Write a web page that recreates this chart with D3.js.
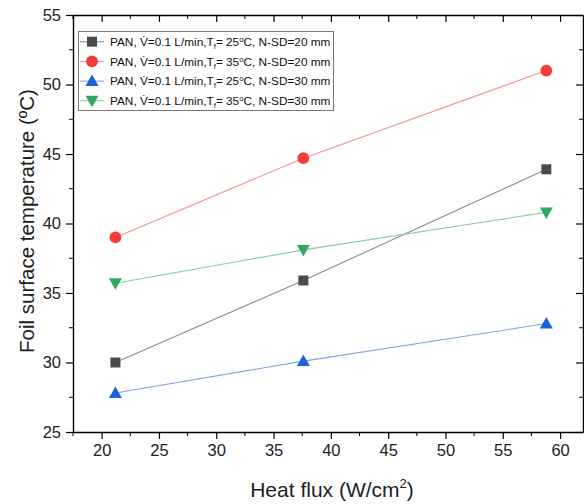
<!DOCTYPE html>
<html>
<head>
<meta charset="utf-8">
<script src="https://cdn.jsdelivr.net/npm/d3@7"></script>
<style>
  html, body { margin: 0; padding: 0; background: #fff; }
  svg { display: block; font-family: Arial, "Liberation Sans", sans-serif; }
</style>
</head>
<body>
<svg id="chart" width="584" height="504"></svg>
<script>
// Heat flux (W/cm²) at which each run was measured
const heatFlux = [21.2, 37.6, 58.8];

// Foil surface temperature (°C) for each configuration
const tempT25SD20 = [30.0, 35.9, 43.9];
const tempT35SD20 = [39.0, 44.7, 51.0];
const tempT25SD30 = [27.8, 30.1, 32.8];
const tempT35SD30 = [35.7, 38.1, 40.8];

const legendTemps = ["25", "35", "25", "35"];
const legendSD = ["20", "20", "30", "30"];

const xTicks = [20, 25, 30, 35, 40, 45, 50, 55, 60];
const yTicks = [25, 30, 35, 40, 45, 50, 55];

const styles = [
  { values: tempT25SD20, marker: "square",   fill: "#4a4a4a", line: "#8c8c8c" },
  { values: tempT35SD20, marker: "circle",   fill: "#f43a3a", line: "#f59090" },
  { values: tempT25SD30, marker: "triangle", fill: "#1c62d6", line: "#7fa6e6" },
  { values: tempT35SD30, marker: "triDown",  fill: "#2fa862", line: "#86cc9f" }
];

const svg = d3.select("#chart");
const plot = { left: 73, right: 583, top: 15, bottom: 432 };

const x = d3.scaleLinear().domain([17.5, 62]).range([plot.left, plot.right]);
const y = d3.scaleLinear().domain([25, 55]).range([plot.bottom, plot.top]);

const minorX = d3.range(17.5, 62.01, 2.5).filter(v => !xTicks.includes(v));
const minorY = d3.range(27.5, 55, 5);

// Bottom axis: outward ticks
const gx = svg.append("g").attr("transform", `translate(0,${plot.bottom})`)
  .call(d3.axisBottom(x).tickValues(xTicks).tickSize(7).tickSizeOuter(0).tickPadding(5));
gx.append("g").selectAll("line").data(minorX).join("line")
  .attr("x1", d => x(d)).attr("x2", d => x(d)).attr("y1", 0).attr("y2", 4).attr("stroke", "#000");

// Left axis: outward ticks
const gy = svg.append("g").attr("transform", `translate(${plot.left},0)`)
  .call(d3.axisLeft(y).tickValues(yTicks).tickSize(7).tickSizeOuter(0).tickPadding(5));
gy.append("g").selectAll("line").data(minorY).join("line")
  .attr("x1", 0).attr("x2", -4).attr("y1", d => y(d)).attr("y2", d => y(d)).attr("stroke", "#000");

// Top axis: inward ticks, no labels
const gt = svg.append("g").attr("transform", `translate(0,${plot.top})`)
  .call(d3.axisBottom(x).tickValues(xTicks).tickSize(7).tickSizeOuter(0).tickFormat(""));
gt.append("g").selectAll("line").data(minorX).join("line")
  .attr("x1", d => x(d)).attr("x2", d => x(d)).attr("y1", 0).attr("y2", 4).attr("stroke", "#000");

// Right axis: inward ticks, no labels
const gr = svg.append("g").attr("transform", `translate(${plot.right},0)`)
  .call(d3.axisLeft(y).tickValues(yTicks).tickSize(7).tickSizeOuter(0).tickFormat(""));
gr.append("g").selectAll("line").data(minorY).join("line")
  .attr("x1", 0).attr("x2", -4).attr("y1", d => y(d)).attr("y2", d => y(d)).attr("stroke", "#000");

svg.selectAll(".domain").attr("stroke", "#000").attr("stroke-width", 1.4);
svg.selectAll(".tick line").attr("stroke", "#000").attr("stroke-width", 1.2);
svg.selectAll(".tick text").attr("font-size", 16.5).attr("fill", "#222")
  .attr("font-family", "Arial, 'Liberation Sans', sans-serif");

// Marker symbols
function markerPath(kind) {
  if (kind === "square") return d3.symbol(d3.symbolSquare, 100)();
  if (kind === "circle") return d3.symbol(d3.symbolCircle, 110)();
  if (kind === "triangle") return "M0,-6.5L6.5,5L-6.5,5Z";
  return "M0,6.5L6.5,-5L-6.5,-5Z";
}

// Series lines and markers
styles.forEach(s => {
  const pts = heatFlux.map((h, i) => [h, s.values[i]]);
  svg.append("path")
    .datum(pts)
    .attr("fill", "none")
    .attr("stroke", s.line)
    .attr("stroke-width", 1.1)
    .attr("d", d3.line().x(d => x(d[0])).y(d => y(d[1])));
  svg.append("g").selectAll("path").data(pts).join("path")
    .attr("transform", d => `translate(${x(d[0])},${y(d[1])})`)
    .attr("d", markerPath(s.marker))
    .attr("fill", s.fill);
});

// Legend
const lg = svg.append("g");
lg.append("rect").attr("x", 78.5).attr("y", 31.5).attr("width", 255).attr("height", 79)
  .attr("fill", "#fff").attr("stroke", "#777").attr("stroke-width", 1);
styles.forEach((s, i) => {
  const cy = 41.7 + i * 19.7;
  lg.append("line").attr("x1", 80).attr("x2", 104).attr("y1", cy).attr("y2", cy)
    .attr("stroke", s.line).attr("stroke-width", 1.1);
  lg.append("path").attr("transform", `translate(92,${cy})`)
    .attr("d", markerPath(s.marker)).attr("fill", s.fill);
  const t = lg.append("text").attr("x", 110).attr("y", cy + 4.2).attr("font-size", 11.8).attr("fill", "#111");
  t.append("tspan").text("PAN, V\u0307=0.1 L/min,T");
  t.append("tspan").attr("font-size", 7.8).attr("dy", 3).text("f");
  t.append("tspan").attr("dy", -3).text("= " + legendTemps[i]);
  t.append("tspan").attr("font-size", 7.8).attr("dy", -4).text("o");
  t.append("tspan").attr("dy", 4).text("C, N-SD=" + legendSD[i] + " mm");
});

// Axis titles
const xt = svg.append("text").attr("x", 332).attr("y", 497).attr("text-anchor", "middle")
  .attr("font-size", 21).attr("fill", "#222");
xt.append("tspan").text("Heat flux (W/cm");
xt.append("tspan").attr("font-size", 13).attr("dy", -9).text("2");
xt.append("tspan").attr("dy", 9).text(")");

svg.append("text").attr("transform", "translate(34,221) rotate(-90)")
  .attr("text-anchor", "middle").attr("font-size", 20.5).attr("fill", "#222")
  .text("Foil surface temperature (\u00BAC)");
</script>
</body>
</html>
